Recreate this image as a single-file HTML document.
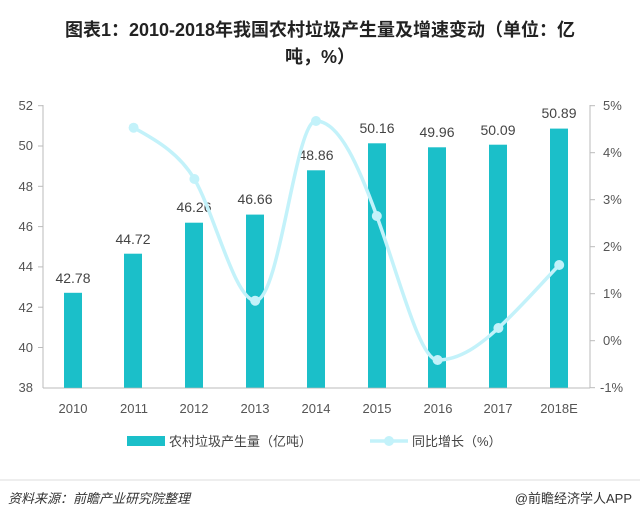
<!DOCTYPE html>
<html><head><meta charset="utf-8"><style>
body{margin:0;background:#fff;width:640px;height:522px;overflow:hidden;font-family:"Liberation Sans","Noto Sans CJK SC",sans-serif}
</style></head><body>
<svg width="640" height="522" xmlns="http://www.w3.org/2000/svg" font-family="Liberation Sans, Noto Sans CJK SC, sans-serif">
<text x="320" y="36" text-anchor="middle" font-size="18" font-weight="bold" fill="#222">图表1：2010-2018年我国农村垃圾产生量及增速变动（单位：亿</text>
<text x="320" y="63" text-anchor="middle" font-size="18" font-weight="bold" fill="#222">吨，%）</text>
<g font-size="13" fill="#555" text-anchor="end">
<text x="33" y="110">52</text><text x="33" y="150">50</text><text x="33" y="191">48</text><text x="33" y="231">46</text><text x="33" y="271">44</text><text x="33" y="312">42</text><text x="33" y="352">40</text><text x="33" y="392">38</text>
</g>
<g font-size="13" fill="#555" text-anchor="start">
<text x="603" y="110">5%</text><text x="603" y="157">4%</text><text x="603" y="204">3%</text><text x="603" y="251">2%</text><text x="603" y="298">1%</text><text x="603" y="345">0%</text><text x="600" y="392">-1%</text>
</g>
<line x1="43" y1="105" x2="43" y2="388" stroke="#bbb"/>
<line x1="590" y1="105" x2="590" y2="388" stroke="#bbb"/>
<g stroke="#bbb"><line x1="38" y1="105.7" x2="43" y2="105.7"/><line x1="38" y1="146" x2="43" y2="146"/><line x1="38" y1="186.3" x2="43" y2="186.3"/><line x1="38" y1="226.6" x2="43" y2="226.6"/><line x1="38" y1="266.9" x2="43" y2="266.9"/><line x1="38" y1="307.2" x2="43" y2="307.2"/><line x1="38" y1="347.5" x2="43" y2="347.5"/>
<line x1="590" y1="105.7" x2="595" y2="105.7"/><line x1="590" y1="152.7" x2="595" y2="152.7"/><line x1="590" y1="199.7" x2="595" y2="199.7"/><line x1="590" y1="246.7" x2="595" y2="246.7"/><line x1="590" y1="293.7" x2="595" y2="293.7"/><line x1="590" y1="340.7" x2="595" y2="340.7"/><line x1="590" y1="387.7" x2="595" y2="387.7"/></g>
<line x1="43" y1="388" x2="590" y2="388" stroke="#bbb"/>
<g fill="#1bbfc9">
<rect x="64" y="292.8" width="18" height="95"/>
<rect x="124" y="253.7" width="18" height="134"/>
<rect x="185" y="222.7" width="18" height="165"/>
<rect x="246" y="214.6" width="18" height="173"/>
<rect x="307" y="170.3" width="18" height="217.4"/>
<rect x="368" y="143.3" width="18" height="244.4"/>
<rect x="428" y="147.3" width="18" height="240.4"/>
<rect x="489" y="144.7" width="18" height="243"/>
<rect x="550" y="128.6" width="18" height="259.1"/>
</g>
<g font-size="14" fill="#444" text-anchor="middle">
<text x="73" y="283">42.78</text><text x="133" y="244">44.72</text><text x="194" y="212">46.26</text><text x="255" y="204">46.66</text><text x="316" y="160">48.86</text><text x="377" y="133">50.16</text><text x="437" y="137">49.96</text><text x="498" y="135">50.09</text><text x="559" y="118">50.89</text>
</g>
<path d="M133.6,127.7 C160,142 180,155 194.4,179 C215,215 235,300 255.2,300.7 C280,301 295,121 316,121 C340,121 360,170 376.8,216 C400,280 420,360 437.6,360 C460,360 480,345 498.4,328 C520,308 540,285 559.2,265" fill="none" stroke="#c3f2fa" stroke-width="3.5"/>
<g fill="#c3f2fa">
<circle cx="133.6" cy="127.7" r="5"/><circle cx="194.4" cy="179" r="5"/><circle cx="255.2" cy="300.7" r="5"/><circle cx="316" cy="121" r="5"/><circle cx="376.8" cy="216" r="5"/><circle cx="437.6" cy="360" r="5"/><circle cx="498.4" cy="328" r="5"/><circle cx="559.2" cy="265" r="5"/>
</g>
<g font-size="13" fill="#555" text-anchor="middle">
<text x="73" y="413">2010</text><text x="134" y="413">2011</text><text x="194" y="413">2012</text><text x="255" y="413">2013</text><text x="316" y="413">2014</text><text x="377" y="413">2015</text><text x="438" y="413">2016</text><text x="498" y="413">2017</text><text x="559" y="413">2018E</text>
</g>
<rect x="127" y="436" width="38" height="10" fill="#1bbfc9"/>
<text x="169" y="446" font-size="13" fill="#444">农村垃圾产生量（亿吨）</text>
<line x1="370" y1="441" x2="408" y2="441" stroke="#c3f2fa" stroke-width="3.5"/>
<circle cx="389" cy="441" r="5" fill="#c3f2fa"/>
<text x="412" y="446" font-size="13" fill="#444">同比增长（%）</text>
<line x1="0" y1="480" x2="640" y2="480" stroke="#ddd"/>
<text x="8" y="503" font-size="13" font-style="italic" fill="#333">资料来源：前瞻产业研究院整理</text>
<text x="632" y="503" font-size="13" fill="#333" text-anchor="end">@前瞻经济学人APP</text>
</svg>
</body></html>
